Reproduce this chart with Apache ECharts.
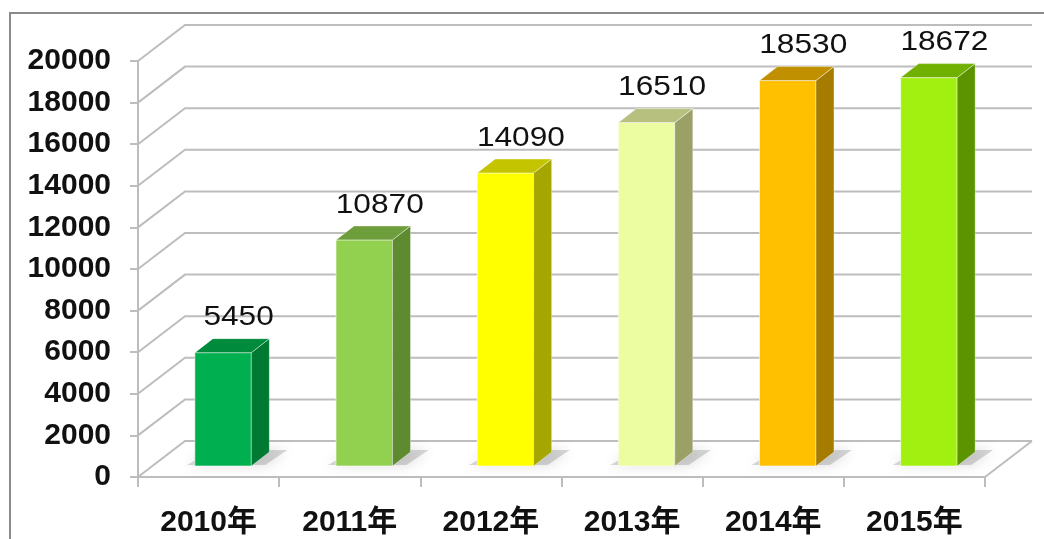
<!DOCTYPE html>
<html>
<head>
<meta charset="utf-8">
<script src="https://cdn.jsdelivr.net/npm/echarts@6/dist/echarts.min.js"></script>
<style>
  html, body { margin: 0; padding: 0; background: #fff; }
  #chart { width: 1044px; height: 539px; }
</style>
</head>
<body>
<div id="chart"></div>
<script>
// 数据
const years = ["2010年", "2011年", "2012年", "2013年", "2014年", "2015年"];
const values = [5450, 10870, 14090, 16510, 18530, 18672];
const yTicks = [0, 2000, 4000, 6000, 8000, 10000, 12000, 14000, 16000, 18000, 20000];

// 每根柱子的正面 / 侧面 / 顶面颜色
const frontColors = ["#00b050", "#92d050", "#ffff00", "#ecfca0", "#ffc000", "#a2f010"];
const sideColors  = ["#007a33", "#5e8a30", "#a6a600", "#9aa066", "#a67c00", "#5c9400"];
const topColors   = ["#008a3c", "#6e9e3c", "#c4c400", "#b8c080", "#c09000", "#70b000"];

// 3D 透视偏移 (墙面深度 / 柱子深度)
const DX = 47, DY = -36;
const BDX = 18, BDY = -14;
const GRID_COLOR = "#bdbdbd";
const FONT = "'Liberation Sans', Arial, 'Noto Sans CJK SC', sans-serif";

const chart = echarts.init(document.getElementById("chart"));

/* ─── 背景墙 + 地板网格线 ─── */
function renderWall(params, api) {
  const cs = params.coordSys;
  const v = api.value(0);
  const y = api.coord([0, v])[1];
  const x0 = cs.x, x1 = cs.x + cs.width;
  const children = [{
    type: "polyline",
    shape: { points: [[x0, y], [x0 + DX, y + DY], [x1 + DX, y + DY]] },
    style: { stroke: GRID_COLOR, lineWidth: 2, fill: null }
  }];
  if (v === 0) {
    // 地板右侧边
    children.push({
      type: "line",
      shape: { x1: x1, y1: y, x2: x1 + DX, y2: y + DY },
      style: { stroke: GRID_COLOR, lineWidth: 2 }
    });
  }
  return { type: "group", children: children };
}

/* ─── 立体柱 ─── */
function renderBar(params, api) {
  const i = api.value(0);
  const v = api.value(1);
  const base = api.coord([i, 0]);
  const top = api.coord([i, v]);
  const band = api.size([1, 0])[0];
  const bw = band * 0.4;
  const xc = base[0];
  const mx = xc + DX / 2;
  const shiftY = DY / 2 - BDY / 2;
  const xl = mx - BDX / 2 - bw / 2, xr = xl + bw;
  const by = base[1] + shiftY, ty = top[1] + shiftY;

  return {
    type: "group",
    children: [
      { // 地面阴影
        type: "polygon",
        shape: { points: [[xl - 8, by - 1], [xr + 14, by - 1], [xr + BDX + 18, by + BDY - 2], [xl + BDX, by + BDY - 2]] },
        style: { fill: "rgba(110,110,110,0.28)", shadowBlur: 14, shadowColor: "rgba(0,0,0,0.5)" }
      },
      { // 正面
        type: "rect",
        shape: { x: xl, y: ty, width: bw, height: by - ty },
        style: { fill: frontColors[i], stroke: "rgba(255,255,255,0.55)", lineWidth: 1 }
      },
      { // 侧面
        type: "polygon",
        shape: { points: [[xr, ty], [xr + BDX, ty + BDY], [xr + BDX, by + BDY], [xr, by]] },
        style: { fill: sideColors[i], stroke: "rgba(255,255,255,0.35)", lineWidth: 1 }
      },
      { // 顶面
        type: "polygon",
        shape: { points: [[xl, ty], [xr, ty], [xr + BDX, ty + BDY], [xl + BDX, ty + BDY]] },
        style: { fill: topColors[i], stroke: "rgba(255,255,255,0.45)", lineWidth: 1 }
      },
      { // 数值标签
        type: "text",
        x: xc + 30, y: ty - 35, scaleX: 1.13,
        style: {
          text: String(v),
          align: "center", verticalAlign: "middle",
          font: "28px " + FONT, fill: "#111"
        }
      }
    ]
  };
}

const option = {
  animation: false,
  graphic: [{
    type: "rect", z: 100,
    shape: { x: 10, y: 13, width: 1100, height: 600 },
    style: { fill: null, stroke: "#8a8a8a", lineWidth: 2 }
  }],
  grid: { left: 138, right: 59, top: 61, bottom: 62, outerBoundsMode: "none" },
  xAxis: {
    type: "category",
    data: years,
    boundaryGap: true,
    axisLine: { show: true, lineStyle: { color: GRID_COLOR, width: 2 } },
    axisTick: { show: true, length: 10, lineStyle: { color: GRID_COLOR, width: 2 } },
    axisLabel: { margin: 31, color: "#111", fontSize: 30, fontWeight: "bold", fontFamily: FONT },
    splitLine: { show: false }
  },
  yAxis: {
    type: "value",
    min: 0, max: 20000, interval: 2000,
    axisLine: { show: true, lineStyle: { color: GRID_COLOR, width: 2 } },
    axisTick: { show: true, length: 8, lineStyle: { color: GRID_COLOR, width: 2 } },
    axisLabel: {
      margin: 27, color: "#111", fontSize: 30, fontWeight: "bold", fontFamily: FONT,
      formatter: v => String(v)
    },
    splitLine: { show: false }
  },
  series: [
    {
      type: "custom", z: 1, silent: true,
      renderItem: renderWall,
      data: yTicks.map(v => [v]),
      encode: { y: 0 }
    },
    {
      type: "custom", z: 5,
      renderItem: renderBar,
      data: values.map((v, i) => [i, v]),
      encode: { x: 0, y: 1 }
    }
  ]
};
chart.setOption(option);
</script>
</body>
</html>
